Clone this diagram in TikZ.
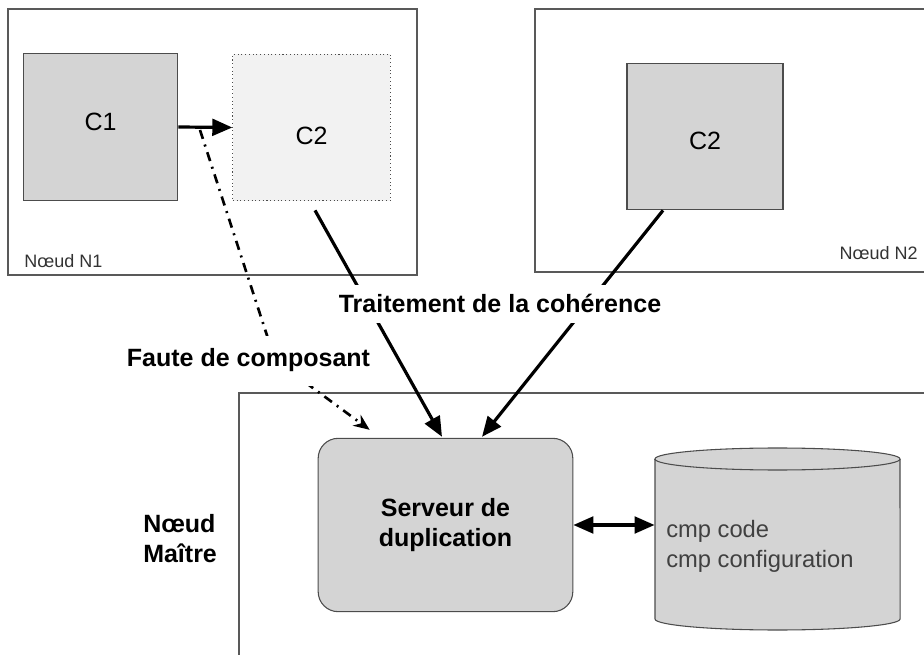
\documentclass[tikz,border=0pt]{standalone}
\usepackage{fontspec}
\setmainfont{Liberation Sans}
\usetikzlibrary{arrows.meta,calc}

\begin{document}
\begin{tikzpicture}[x=0.75pt,y=-0.75pt,>={Triangle[length=15pt,width=12.5pt]},
	nodebox/.style={draw=black!65,line width=0.8pt},
	comp/.style={draw=black!70,fill=black!17,line width=0.8pt,font=\fontsize{18.75}{22.5}\selectfont},
	tag/.style={fill=white,inner xsep=2pt,font=\bfseries\fontsize{18.75}{22.5}\selectfont},
	small/.style={inner sep=0pt,text=black!80,font=\fontsize{13.5}{16}\selectfont},
	flow/.style={line width=2.4pt,->},
	fault/.style={line width=2pt,dash pattern=on 7pt off 4.5pt on 1.5pt off 4.5pt,-{Stealth[length=12pt,width=10pt]}}]

\useasboundingbox (0,0) rectangle (924,655);
\clip (0,0) rectangle (924,655);

% les noeuds
\draw[nodebox] (8,9) rectangle (417,275);
\draw[nodebox] (535,9) rectangle (935,272);
\draw[nodebox] (239,393) rectangle (935,670);

\node[small,anchor=base west] (N1) at (24,268) {Nœud N1};
\node[small,anchor=base east] (N2) at (918,260) {Nœud N2};
\node[tag,fill=none,inner sep=0pt,anchor=west,align=left] (NM) at (143,539) {Nœud\\Maître};

% composants
\node[comp,minimum width=116pt,minimum height=110pt,text depth=8pt] (C1) at (100.5,127) {C1};
\node[comp,dotted,fill=black!5,minimum width=118pt,minimum height=110pt,text height=25pt] (C2a) at (311.5,127.5) {C2};
\node[comp,minimum width=117pt,minimum height=110pt,text height=20pt] (C2b) at (705,136.5) {C2};

% serveur et base
\node[comp,rounded corners=15pt,minimum width=191pt,minimum height=130pt,align=center,
	font=\bfseries\fontsize{18.75}{22.5}\selectfont] (serv) at (445.5,525) {Serveur de\\duplication};
\node[minimum width=184pt,minimum height=137pt,inner sep=0pt] (db) at (777.5,539) {};
\filldraw[draw=black!70,fill=black!17,line width=0.8pt]
	(655,459) -- (655,619) arc[start angle=180,end angle=360,x radius=91.9pt,y radius=8.25pt]
	-- (900,459) arc[start angle=0,end angle=180,x radius=91.9pt,y radius=8.25pt] -- cycle;
\draw[black!70,line width=0.8pt] (655,459) arc[start angle=180,end angle=360,x radius=91.9pt,y radius=8.25pt];
\node[inner sep=0pt,anchor=west,align=left,text=black!75,font=\fontsize{17.8}{22.5}\selectfont] (dbtxt) at (666,546) {cmp code\\cmp configuration};

% fleches
\coordinate (out1) at ($(C2a.south)+(3.5,9)$);
\coordinate (in1) at ($(serv.north)+(-3.5,-1)$);
\coordinate (out2) at ($(C2b.south)+(-42,0)$);
\coordinate (in2) at ($(serv.north)+(36.5,-1)$);
\coordinate (fstart) at (200,130);
\coordinate (fmid) at (275,360);
\coordinate (fend) at ($(serv.north west)+(52,-8)$);

\draw[flow] (C1.east) -- (C2a.west);
\draw[flow] (out1) -- (in1);
\draw[flow] (out2) -- (in2);
\draw[fault] (fstart) -- (fmid) -- (fend);
\draw[line width=2.4pt,<->] (serv.east) -- (serv.east -| db.west);

% etiquettes
\node[tag,inner ysep=7pt,anchor=base] (trait) at (500,313) {Traitement de la cohérence};
\node[tag,inner ysep=10pt,anchor=base] (faute) at (248.5,367) {Faute de composant};

\end{tikzpicture}
\end{document}
